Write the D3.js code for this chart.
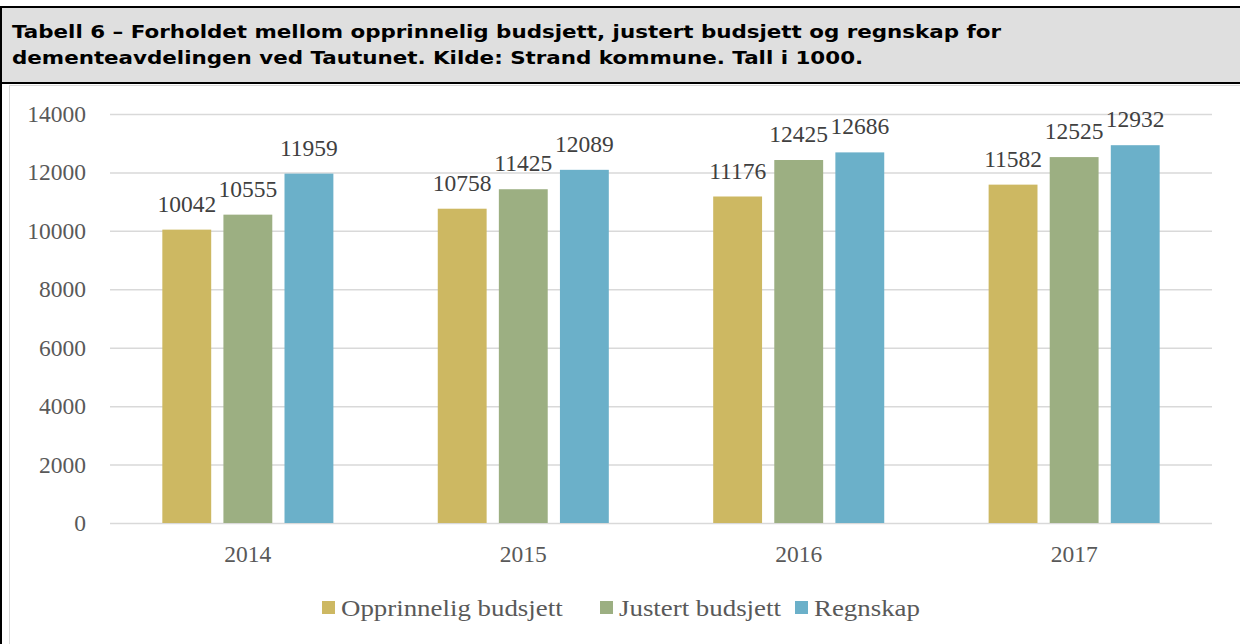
<!DOCTYPE html>
<html>
<head>
<meta charset="utf-8">
<script src="https://cdn.jsdelivr.net/npm/d3@7"></script>
<style>
  body { margin: 0; background: #fff; }
  svg { display: block; }
</style>
</head>
<body>
<script>
// data
const years = ["2014", "2015", "2016", "2017"];
const seriesNames = ["Opprinnelig budsjett", "Justert budsjett", "Regnskap"];
const opprinnelig = [10042, 10758, 11176, 11582];
const justert = [10555, 11425, 12425, 12525];
const regnskap = [11959, 12089, 12686, 12932];
const yTicks = [0, 2000, 4000, 6000, 8000, 10000, 12000, 14000];
const titleLines = [
    "Tabell 6 \u2013 Forholdet mellom opprinnelig budsjett, justert budsjett og regnskap for",
    "dementeavdelingen ved Tautunet. Kilde: Strand kommune. Tall i 1000."
];

const colors = ["#cdb862", "#9caf82", "#6bb0c9"];
const W = 1240, H = 644;

const svg = d3.select("body").append("svg")
    .attr("width", W)
    .attr("height", H);

// header box
svg.append("rect")
    .attr("x", 1).attr("y", 7)
    .attr("width", W + 10).attr("height", 76)
    .attr("fill", "#dfdfdf")
    .attr("stroke", "#000")
    .attr("stroke-width", 2);

// Verdana-ish title: DejaVu Sans Bold stretched a bit to match width
svg.append("g")
    .attr("transform", "translate(12,0) scale(1.19,1)")
    .selectAll("text")
    .data(titleLines)
    .enter().append("text")
    .attr("x", 0)
    .attr("y", (d, i) => 38 + i * 26)
    .attr("font-family", "DejaVu Sans, Verdana, sans-serif")
    .attr("font-weight", "bold")
    .attr("font-size", 18)
    .attr("fill", "#000")
    .text(d => d);

// chart frame
svg.append("rect")
    .attr("x", 9.5).attr("y", 85.5)
    .attr("width", W).attr("height", H)
    .attr("fill", "#fff")
    .attr("stroke", "#d9d9d9");

// left black line over everything
svg.append("line")
    .attr("x1", 1).attr("x2", 1)
    .attr("y1", 6).attr("y2", H)
    .attr("stroke", "#000")
    .attr("stroke-width", 2);

const plotLeft = 110, plotRight = 1212, plotTop = 114, plotBottom = 523;

const y = d3.scaleLinear().domain([0, 14000]).range([plotBottom, plotTop]);
const x0 = d3.scaleBand().domain(years).range([plotLeft, plotRight])
    .paddingInner(0.379).paddingOuter(0.19);
const x1 = d3.scaleBand().domain(seriesNames).range([0, x0.bandwidth()])
    .paddingInner(0.2);

const fontSerif = "Palatino Linotype, Book Antiqua, Liberation Serif, serif";

// y axis with gridlines
const yAxis = svg.append("g")
    .attr("transform", `translate(${plotLeft},0)`)
    .call(d3.axisLeft(y).tickValues(yTicks).tickFormat(d3.format("d"))
        .tickSize(-(plotRight - plotLeft)).tickPadding(24));
yAxis.select(".domain").remove();
yAxis.selectAll(".tick line").attr("stroke", "#d9d9d9").attr("stroke-width", 1.5);
yAxis.selectAll(".tick text")
    .attr("font-family", fontSerif)
    .attr("font-size", 23.5)
    .attr("fill", "#595959");

// x axis labels
const xAxis = svg.append("g")
    .attr("transform", `translate(0,${plotBottom})`)
    .call(d3.axisBottom(x0).tickSize(0).tickPadding(22));
xAxis.select(".domain").remove();
xAxis.selectAll(".tick text")
    .attr("font-family", fontSerif)
    .attr("font-size", 23.5)
    .attr("fill", "#595959");

const rows = years.map((yr, i) => ({
    year: yr,
    values: [opprinnelig[i], justert[i], regnskap[i]].map((v, j) => ({ name: seriesNames[j], value: v, idx: j }))
}));

const groups = svg.append("g")
    .selectAll("g")
    .data(rows)
    .enter().append("g")
    .attr("transform", d => `translate(${x0(d.year)},0)`);

groups.selectAll("rect")
    .data(d => d.values)
    .enter().append("rect")
    .attr("x", d => x1(d.name))
    .attr("y", d => y(d.value))
    .attr("width", x1.bandwidth())
    .attr("height", d => plotBottom - y(d.value))
    .attr("fill", d => colors[d.idx]);

groups.selectAll("text")
    .data(d => d.values)
    .enter().append("text")
    .attr("x", d => x1(d.name) + x1.bandwidth() / 2)
    .attr("y", d => y(d.value) - 18)
    .attr("text-anchor", "middle")
    .attr("font-family", fontSerif)
    .attr("font-size", 23.5)
    .attr("fill", "#404040")
    .text(d => d.value);

// legend
const legendX = [322, 600, 795];
const legend = svg.append("g")
    .selectAll("g")
    .data(seriesNames)
    .enter().append("g")
    .attr("transform", (d, i) => `translate(${legendX[i]},601)`);

legend.append("rect")
    .attr("width", 13).attr("height", 13)
    .attr("fill", (d, i) => colors[i]);

legend.append("text")
    .attr("transform", "translate(19,15) scale(1.12,1)")
    .attr("font-family", fontSerif)
    .attr("font-size", 24)
    .attr("fill", "#595959")
    .text(d => d);
</script>
</body>
</html>
